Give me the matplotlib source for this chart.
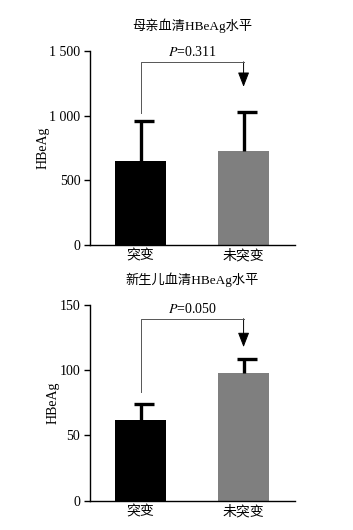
import matplotlib
matplotlib.use("Agg")
import matplotlib.pyplot as plt
from matplotlib.ticker import FuncFormatter

plt.rcParams['font.family'] = ['Liberation Serif', 'Noto Sans CJK SC']
plt.rcParams['mathtext.fontset'] = 'stix'

groups = ['突变', '未突变']
colors = ['#000000', '#7f7f7f']

# maternal serum HBeAg
mother_mean = [652, 727]
mother_err = [309, 299]
mother_pval = '=0.311'
# newborn serum HBeAg
baby_mean = [61.5, 97.8]
baby_err = [12.5, 10.6]
baby_pval = '=0.050'

panels = [
    dict(title='母亲血清HBeAg水平', mean=mother_mean, err=mother_err, ymax=1500,
         ticks=[0, 500, 1000, 1500], pval=mother_pval,
         br_left=1020, br_top=1415, br_tip=1222,
         rect=[0.255, 0.538, 0.581, 0.366]),
    dict(title='新生儿血清HBeAg水平', mean=baby_mean, err=baby_err, ymax=150,
         ticks=[0, 50, 100, 150], pval=baby_pval,
         br_left=83.6, br_top=139.3, br_tip=117.6,
         rect=[0.255, 0.055, 0.581, 0.370]),
]

def thousands(v, pos):
    v = int(round(v))
    if v >= 1000:
        return '%d %03d' % (v // 1000, v % 1000)
    return str(v)

fig = plt.figure(figsize=(3.53, 5.30), dpi=100)

for p in panels:
    ax = fig.add_axes(p['rect'])
    x = [0, 1]
    ax.bar(x, p['mean'], width=0.5, color=colors, zorder=2)
    tops = [m + e for m, e in zip(p['mean'], p['err'])]
    # upper error bars only
    ax.vlines(x, p['mean'], tops, color='black', lw=2.4, zorder=3)
    ax.plot([xi + 0.03 for xi in x], tops, ls='none', marker='_', ms=14,
            mew=2.4, color='black', zorder=3)
    ax.set_xlim(-0.49, 1.5)
    ax.set_ylim(0, p['ymax'])
    ax.set_yticks(p['ticks'])
    ax.yaxis.set_major_formatter(FuncFormatter(thousands))
    ax.set_xticks(x)
    ax.set_xticklabels(groups, fontsize=10)
    ax.tick_params(axis='x', length=0, pad=3)
    ax.tick_params(axis='y', length=4, width=1, labelsize=10, pad=3)
    for s in ['top', 'right']:
        ax.spines[s].set_visible(False)
    ax.spines['left'].set_linewidth(1)
    ax.spines['bottom'].set_linewidth(1)
    ax.set_ylabel('HBeAg', fontsize=10, labelpad=0)
    ax.set_title(p['title'], fontsize=9.5, pad=15)

    # significance bracket with arrow
    ax.plot([0, 0, 1], [p['br_left'], p['br_top'], p['br_top']],
            color='#555555', lw=0.7, zorder=4)
    ax.annotate('', xy=(1, p['br_tip']), xytext=(1, p['br_top']),
                arrowprops=dict(arrowstyle='-|>,head_width=0.35,head_length=0.9',
                                color='black', lw=0.7, shrinkA=0, shrinkB=0))
    ax.text(0.5, p['br_top'] + p['ymax'] * 0.015, r'$P$' + p['pval'],
            ha='center', va='bottom', fontsize=10)

fig.savefig('out.png', dpi=100)
